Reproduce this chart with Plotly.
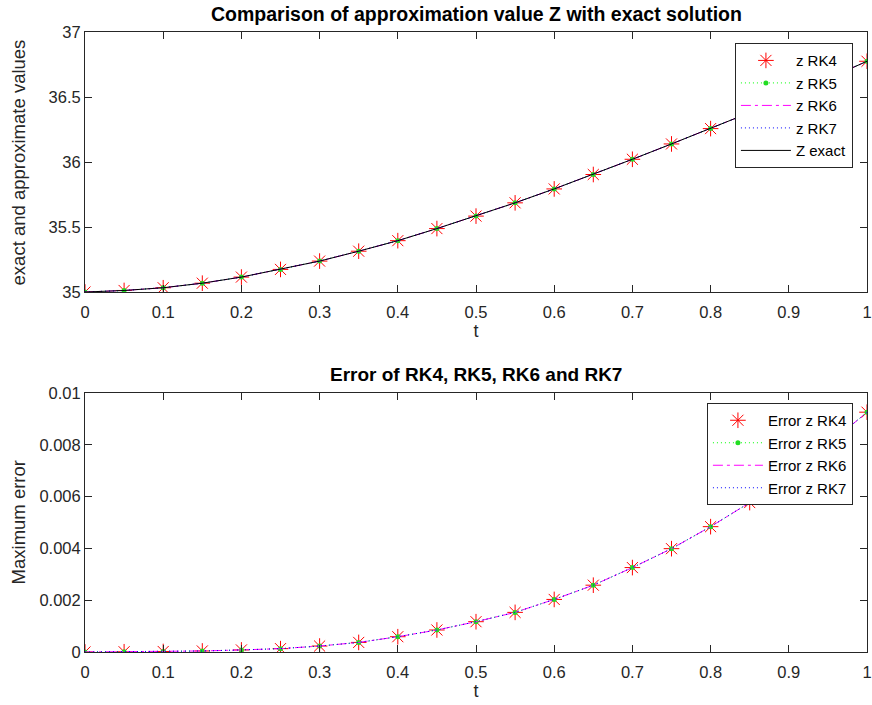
import plotly.graph_objects as go

# ---- data ----
t = [0.0, 0.05, 0.1, 0.15, 0.2, 0.25, 0.3, 0.35, 0.4, 0.45, 0.5,
     0.55, 0.6, 0.65, 0.7, 0.75, 0.8, 0.85, 0.9, 0.95, 1.0]

z_exact = [35.000, 35.012, 35.033, 35.068, 35.115, 35.174, 35.238, 35.314, 35.395, 35.488, 35.584,
           35.686, 35.793, 35.904, 36.021, 36.139, 36.257, 36.380, 36.508, 36.640, 36.775]
z_rk4 = list(z_exact)
z_rk5 = list(z_exact)
z_rk6 = list(z_exact)
z_rk7 = list(z_exact)

err_rk4 = [0.0, 0.00001, 0.00002, 0.00004, 0.00008, 0.00013, 0.00023, 0.00037, 0.00059, 0.00085, 0.00117,
           0.00153, 0.00203, 0.00258, 0.00326, 0.00399, 0.00484, 0.00577, 0.00682, 0.00800, 0.00926]
err_rk5 = list(err_rk4)
err_rk6 = list(err_rk4)
err_rk7 = list(err_rk4)

top_ticks = [35, 35.5, 36, 36.5, 37]
bot_ticks = [0, 0.002, 0.004, 0.006, 0.008, 0.01]
x_ticks = [0, 0.1, 0.2, 0.3, 0.4, 0.5, 0.6, 0.7, 0.8, 0.9, 1]

FONT = "Liberation Sans, Arial, Helvetica, sans-serif"
AX = "#262626"
RED = "#ff0000"
GREEN = "#00ff00"
MAG = "#ff00ff"
BLUE = "#0000ff"

fig = go.Figure()

def add_series(x, y, name, kind, xa, ya, legend):
    if kind == "rk4":
        fig.add_trace(go.Scatter(x=x, y=y, name=name, mode="markers", xaxis=xa, yaxis=ya, legend=legend,
                                 marker=dict(symbol="asterisk-open", size=13, line=dict(color=RED, width=1), color=RED)))
    elif kind == "rk5":
        fig.add_trace(go.Scatter(x=x, y=y, name=name, mode="lines+markers", xaxis=xa, yaxis=ya, legend=legend,
                                 line=dict(color=GREEN, width=1, dash="1px,3px"),
                                 marker=dict(symbol="circle", size=5, color="#22dd22")))
    elif kind == "rk6":
        fig.add_trace(go.Scatter(x=x, y=y, name=name, mode="lines", xaxis=xa, yaxis=ya, legend=legend,
                                 line=dict(color=MAG, width=1, dash="10px,4px,3px,4px")))
    elif kind == "rk7":
        fig.add_trace(go.Scatter(x=x, y=y, name=name, mode="lines", xaxis=xa, yaxis=ya, legend=legend,
                                 line=dict(color=BLUE, width=1, dash="1px,3px")))
    else:
        fig.add_trace(go.Scatter(x=x, y=y, name=name, mode="lines", xaxis=xa, yaxis=ya, legend=legend,
                                 line=dict(color="#000000", width=1)))

add_series(t, z_rk4, "z RK4", "rk4", "x", "y", "legend")
add_series(t, z_rk5, "z RK5", "rk5", "x", "y", "legend")
add_series(t, z_rk6, "z RK6", "rk6", "x", "y", "legend")
add_series(t, z_rk7, "z RK7", "rk7", "x", "y", "legend")
add_series(t, z_exact, "Z exact", "exact", "x", "y", "legend")

add_series(t, err_rk4, "Error z RK4", "rk4", "x2", "y2", "legend2")
add_series(t, err_rk5, "Error z RK5", "rk5", "x2", "y2", "legend2")
add_series(t, err_rk6, "Error z RK6", "rk6", "x2", "y2", "legend2")
add_series(t, err_rk7, "Error z RK7", "rk7", "x2", "y2", "legend2")

axis_common = dict(showline=True, linecolor=AX, linewidth=1, mirror="allticks",
                   ticks="inside", ticklen=7, tickcolor=AX, tickwidth=1,
                   showgrid=False, zeroline=False,
                   tickfont=dict(family=FONT, size=16.5, color=AX),
                   ticklabeloverflow="allow")
x_common = dict(axis_common, ticklabelstandoff=5)

L, R, T, B = 85, 0, 32, 53
H = 705 - T - B

fig.update_layout(
    width=872, height=705,
    margin=dict(l=L, r=R, t=T, b=B),
    paper_bgcolor="white", plot_bgcolor="white",
    font=dict(family=FONT, color=AX),
    xaxis=dict(domain=[0, 1], anchor="y", range=[0, 1], tickvals=x_ticks,
               title=dict(text="t", font=dict(size=18, color=AX), standoff=2), **x_common),
    yaxis=dict(domain=[0.5806, 1], anchor="x", range=[35, 37], tickvals=top_ticks, **axis_common),
    xaxis2=dict(domain=[0, 1], anchor="y2", range=[0, 1], tickvals=x_ticks,
                title=dict(text="t", font=dict(size=18, color=AX), standoff=2), **x_common),
    yaxis2=dict(domain=[0, 0.4177], anchor="x2", range=[0, 0.01], tickvals=bot_ticks, **axis_common),
    legend=dict(x=0.982, y=0.982, xanchor="right", yanchor="top",
                bgcolor="white", bordercolor=AX, borderwidth=1,
                font=dict(family=FONT, size=15, color="#000000"), itemwidth=50),
    legend2=dict(x=0.982, y=0.4016, xanchor="right", yanchor="top",
                 bgcolor="white", bordercolor=AX, borderwidth=1,
                 font=dict(family=FONT, size=15, color="#000000"), itemwidth=50),
    showlegend=True,
    annotations=[
        dict(text="<b>Comparison of approximation value Z with exact solution</b>", xref="paper", yref="paper",
             x=0.5, y=(705 - B - 14) / H, xanchor="center", yanchor="middle", showarrow=False,
             font=dict(family=FONT, size=19.5, color="#000000")),
        dict(text="<b>Error of RK4, RK5, RK6 and RK7</b>", xref="paper", yref="paper",
             x=0.5, y=(705 - B - 374) / H, xanchor="center", yanchor="middle", showarrow=False,
             font=dict(family=FONT, size=19, color="#000000")),
        dict(text="exact and approximate values", xref="paper", yref="paper", textangle=-90,
             x=(18 - L) / 787, y=(705 - B - 162) / H, xanchor="center", yanchor="middle", showarrow=False,
             font=dict(family=FONT, size=18.5, color=AX)),
        dict(text="Maximum error", xref="paper", yref="paper", textangle=-90,
             x=(18 - L) / 787, y=(705 - B - 522) / H, xanchor="center", yanchor="middle", showarrow=False,
             font=dict(family=FONT, size=18.5, color=AX)),
    ],
)

fig.write_html("out.html")
